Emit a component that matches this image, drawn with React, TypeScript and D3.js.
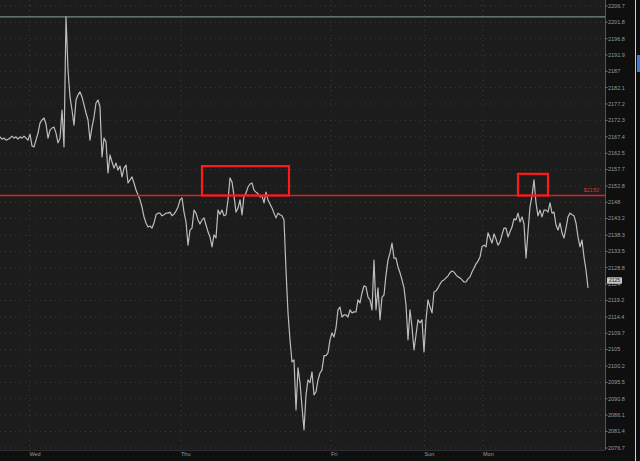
import React from 'react';
import * as d3 from 'd3';

// Price series (sampled left to right, equal spacing)
const closePrices = [
  2167.4, 2166.7, 2167.0, 2166.4, 2166.7, 2167.0, 2167.6, 2167.0, 2167.4, 2166.7,
  2167.4, 2167.0, 2167.6, 2167.0, 2166.4, 2168.2, 2164.7, 2164.4, 2166.4, 2168.5,
  2171.5, 2172.4, 2173.0, 2171.2, 2167.0, 2169.4, 2170.0, 2170.3, 2168.5, 2165.6,
  2167.0, 2175.4, 2164.4, 2203.4, 2187.4, 2179.3, 2175.4, 2170.9, 2178.4, 2179.9,
  2180.8, 2179.3, 2176.9, 2174.5, 2172.4, 2166.4, 2170.3, 2173.3, 2177.5, 2178.4,
  2176.3, 2161.4, 2167.0, 2165.9, 2156.7, 2162.0, 2159.9, 2158.1, 2159.6, 2157.5,
  2158.7, 2155.5, 2158.1, 2159.0, 2153.7, 2154.6, 2155.5, 2153.7, 2151.6, 2150.2,
  2148.7, 2146.6, 2143.7, 2141.9, 2140.7, 2141.0, 2140.4, 2141.9, 2144.3, 2144.8,
  2144.8, 2144.0, 2144.3, 2144.8, 2144.8, 2145.1, 2144.0, 2144.5, 2145.4, 2146.6,
  2148.7, 2149.3, 2145.1, 2142.2, 2135.4, 2139.8, 2140.4, 2145.7, 2144.8, 2142.8,
  2141.6, 2142.8, 2143.4, 2141.3, 2139.3, 2137.8, 2134.9, 2138.4, 2137.5, 2145.7,
  2144.5, 2145.7, 2144.0, 2144.3, 2148.7, 2155.2, 2154.0, 2149.9, 2145.1, 2146.3,
  2148.7, 2144.3, 2149.9, 2150.7, 2152.5, 2153.4, 2153.7, 2151.6, 2151.0, 2150.5,
  2149.6, 2149.9, 2147.8, 2151.0, 2148.7, 2147.5, 2146.3, 2144.8, 2143.4, 2144.8,
  2144.3, 2144.0, 2142.8, 2128.1, 2115.6, 2107.8, 2101.4, 2102.0, 2087.6, 2099.7,
  2095.4, 2088.5, 2081.9, 2091.9, 2096.2, 2095.4, 2098.5, 2091.9, 2092.8, 2096.2,
  2098.2, 2099.1, 2103.2, 2103.2, 2104.0, 2107.8, 2109.8, 2108.6, 2111.3, 2116.5,
  2117.3, 2114.4, 2115.0, 2115.0, 2114.4, 2116.5, 2115.6, 2115.9, 2115.9, 2119.4,
  2118.5, 2121.4, 2123.5, 2123.2, 2120.2, 2119.4, 2116.5, 2131.0, 2116.5, 2122.9,
  2113.6, 2120.2, 2120.8, 2126.7, 2131.0, 2133.1, 2136.0, 2131.6, 2131.6, 2129.0,
  2127.3, 2125.2, 2122.9, 2117.9, 2107.8, 2116.5, 2111.5, 2104.9, 2109.2, 2113.6,
  2112.7, 2113.6, 2104.3, 2113.6, 2119.4, 2117.3, 2115.6, 2121.7, 2122.0, 2122.9,
  2124.0, 2124.9, 2125.2, 2125.8, 2126.4, 2127.3, 2127.8, 2127.5, 2126.7, 2126.1,
  2125.8, 2125.2, 2124.6, 2124.6, 2125.5, 2126.1, 2127.5, 2128.7, 2129.9, 2130.7,
  2131.9, 2134.9, 2135.4, 2134.9, 2139.0, 2137.5, 2136.0, 2138.7, 2137.2, 2135.4,
  2136.3, 2138.4, 2140.4, 2140.4, 2137.8, 2139.3, 2140.7, 2143.1, 2142.8, 2144.8,
  2142.2, 2143.7, 2141.6, 2131.6, 2139.3, 2146.6, 2149.9, 2154.6, 2147.8, 2144.0,
  2145.7, 2143.7, 2145.7, 2145.7, 2145.1, 2147.8, 2144.8, 2145.1, 2141.3, 2139.8,
  2141.9, 2139.0, 2137.5, 2140.4, 2143.7, 2144.8, 2144.3, 2144.0, 2141.9, 2137.8,
  2134.9, 2136.9, 2131.9, 2128.1, 2122.9,
];

const yTickLabels = [
  '2206.7', '2201.8', '2196.8', '2191.9', '2187', '2182.1', '2177.2', '2172.3',
  '2167.4', '2162.5', '2157.7', '2152.8', '2148', '2143.2', '2138.3', '2133.5',
  '2128.8', '2124', '2119.2', '2114.4', '2109.7', '2105', '2100.2', '2095.5',
  '2090.8', '2086.1', '2081.4', '2076.7',
];

const dayLabels = ['Wed', 'Thu', 'Fri', 'Sun', 'Mon'];
const dayTickIndex = [14.7, 90.5, 165.5, 212.25, 241.5];

const refLevel = 2150;
const refLabel = '$2150';
const lastPrice = 2125;
const lastLabel = '2125';

const boxStartIndex = [101, 259];
const boxEndIndex = [144.5, 274];
const boxLow = [2150, 2150];
const boxHigh = [2158.7, 2156.4];

const W = 640;
const H = 461;
const plotRight = 605;
const plotBottom = 450;

export default function App() {
  const x = d3.scaleLinear().domain([0, closePrices.length - 1]).range([0, 588]);
  const yMin = +yTickLabels[yTickLabels.length - 1];
  const yMax = +yTickLabels[0];
  const y = d3.scaleLog().domain([yMin, yMax]).range([448, 6]);
  const line = d3
    .line<number>()
    .x((_, i) => x(i))
    .y((d) => y(d));
  const high = d3.max(closePrices) as number;
  const font = 'Liberation Sans, Arial, sans-serif';
  const refY = y(refLevel);

  return (
    <svg
      width={W}
      height={H}
      style={{ position: 'absolute', left: 0, top: 0, display: 'block' }}
    >
      <rect x={0} y={0} width={W} height={H} fill="#0f0f0f" />
      <rect x={0} y={0} width={plotRight} height={plotBottom} fill="#1c1c1c" />
      {/* horizontal grid */}
      {yTickLabels.map((t) => (
        <line
          key={'g' + t}
          x1={0}
          x2={plotRight}
          y1={y(+t)}
          y2={y(+t)}
          stroke="#3a3a3a"
          strokeWidth={1}
          strokeDasharray="1,4"
        />
      ))}
      {/* vertical grid */}
      {dayTickIndex.map((d, i) => (
        <line
          key={'v' + i}
          x1={x(d)}
          x2={x(d)}
          y1={0}
          y2={plotBottom}
          stroke="#3a3a3a"
          strokeWidth={1}
          strokeDasharray="1,4"
        />
      ))}
      {/* high line */}
      <line x1={0} x2={plotRight} y1={y(high)} y2={y(high)} stroke="#86a89c" strokeWidth={1} />
      {/* price line */}
      <path d={line(closePrices) || ''} fill="none" stroke="#bdbdbd" strokeWidth={1.2} strokeLinejoin="round" />
      {/* ref line */}
      <line x1={0} x2={plotRight} y1={refY} y2={refY} stroke="#e81c1c" strokeWidth={1.4} />
      <text
        x={plotRight - 6}
        y={refY - 3}
        fill="#d43a3a"
        fontSize={5.5}
        fontFamily={font}
        textAnchor="end"
      >
        {refLabel}
      </text>
      {/* boxes */}
      {boxStartIndex.map((s, i) => (
        <rect
          key={'b' + i}
          x={x(s)}
          y={y(boxHigh[i])}
          width={x(boxEndIndex[i]) - x(s)}
          height={y(boxLow[i]) - y(boxHigh[i])}
          fill="none"
          stroke="#ff1a1a"
          strokeWidth={2.2}
        />
      ))}
      {/* axis borders */}
      <line x1={plotRight + 0.5} x2={plotRight + 0.5} y1={0} y2={plotBottom} stroke="#555" strokeWidth={1} />
      <line x1={0} x2={plotRight} y1={plotBottom + 0.5} y2={plotBottom + 0.5} stroke="#2e2e2e" strokeWidth={1} />
      {/* y ticks and labels */}
      {yTickLabels.map((t) => (
        <g key={'t' + t}>
          <line x1={plotRight} x2={plotRight + 2.5} y1={y(+t)} y2={y(+t)} stroke="#777" strokeWidth={1} />
          <text
            x={plotRight + 3}
            y={y(+t)}
            dy="0.35em"
            fill="#9a9a9a"
            fontSize={5.5}
            fontFamily={font}
          >
            {t}
          </text>
        </g>
      ))}
      {/* last price tag */}
      <rect x={plotRight + 2} y={y(lastPrice) - 3.5} width={15} height={6.5} fill="#c8c8c8" rx={1} />
      <text
        x={plotRight + 9.5}
        y={y(lastPrice) - 0.3}
        dy="0.35em"
        fill="#1a1a1a"
        fontSize={5}
        fontFamily={font}
        textAnchor="middle"
      >
        {lastLabel}
      </text>
      {/* x labels */}
      {dayLabels.map((d, i) => (
        <text
          key={'d' + i}
          x={x(dayTickIndex[i])}
          y={456}
          fill="#9a9a9a"
          fontSize={5.5}
          fontFamily={font}
        >
          {d}
        </text>
      ))}
      {/* right edge */}
      <line x1={635.5} x2={635.5} y1={0} y2={H} stroke="#d0d0d0" strokeWidth={1} />
      <rect x={637} y={55} width={3} height={17} fill="#3a7bd5" />
    </svg>
  );
}
